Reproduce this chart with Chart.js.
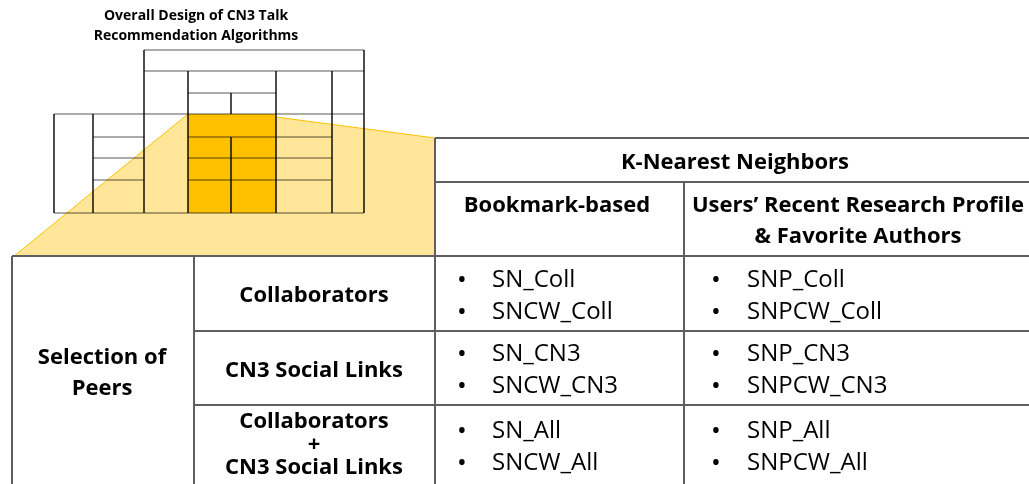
<!DOCTYPE html>
<html>
<head>
<meta charset="utf-8">
<title>Overall Design of CN3 Talk Recommendation Algorithms</title>
<script src="https://cdn.jsdelivr.net/npm/chart.js@4.4.0/dist/chart.umd.min.js"></script>
<style>
    body { margin: 0; background: #fff; }
    #wrap { position: relative; width: 1029px; height: 484px; }
</style>
</head>
<body>
<div id="wrap"><canvas id="designChart"></canvas></div>
<script>
    // ---------------- data (texts of the table) ----------------
    var titleLines = ['Overall Design of CN3 Talk', 'Recommendation Algorithms'];
    var groupHeader = ['K-Nearest Neighbors'];
    var columnHeaders = [['Bookmark-based'], ['Users\u2019 Recent Research Profile', '& Favorite Authors']];
    var sideHeader = ['Selection of', 'Peers'];
    var rowHeaders = [['Collaborators'], ['CN3 Social Links'], ['Collaborators', '+', 'CN3 Social Links']];
    var bookmarkCells = [['SN_Coll', 'SNCW_Coll'], ['SN_CN3', 'SNCW_CN3'], ['SN_All', 'SNCW_All']];
    var profileCells = [['SNP_Coll', 'SNPCW_Coll'], ['SNP_CN3', 'SNPCW_CN3'], ['SNP_All', 'SNPCW_All']];

    // ---------------- layout (px in the hidden scales) ----------------
    // main table grid
    var mainX = [12, 194, 435, 684, 1033];
    var mainY = [138, 182, 256, 331, 405, 490];
    // mini table grid (thumbnail at top-left)
    var miniX = [54, 93, 144, 188, 231, 276, 332, 364];
    var miniY = [50, 71, 93, 114, 137, 158, 180, 213];

    function seg(x1, y1, x2, y2) { return [{x: x1, y: y1}, {x: x2, y: y2}]; }

    var mainSegs = [
        seg(mainX[2], mainY[0], mainX[4], mainY[0]),
        seg(mainX[2], mainY[1], mainX[4], mainY[1]),
        seg(mainX[0], mainY[2], mainX[4], mainY[2]),
        seg(mainX[1], mainY[3], mainX[4], mainY[3]),
        seg(mainX[1], mainY[4], mainX[4], mainY[4]),
        seg(mainX[0], mainY[2], mainX[0], mainY[5]),
        seg(mainX[1], mainY[2], mainX[1], mainY[5]),
        seg(mainX[2], mainY[0], mainX[2], mainY[5]),
        seg(mainX[3], mainY[1], mainX[3], mainY[5])
    ];

    var a = miniX[0], b = miniX[1], c = miniX[2], d = miniX[3], e = miniX[4], f = miniX[5], g = miniX[6], h = miniX[7];
    var Y = miniY;
    var miniSegs = [
        seg(c, Y[0], h, Y[0]), seg(c, Y[1], h, Y[1]), seg(d, Y[2], f, Y[2]), seg(a, Y[3], h, Y[3]),
        seg(b, Y[4], c, Y[4]), seg(d, Y[4], g, Y[4]),
        seg(b, Y[5], c, Y[5]), seg(d, Y[5], g, Y[5]),
        seg(b, Y[6], c, Y[6]), seg(d, Y[6], g, Y[6]),
        seg(a, Y[7], h, Y[7]),
        seg(a, Y[3], a, Y[7]), seg(b, Y[3], b, Y[7]), seg(c, Y[0], c, Y[7]), seg(d, Y[1], d, Y[7]),
        seg(e, Y[2], e, Y[3]), seg(e, Y[4], e, Y[7]),
        seg(f, Y[1], f, Y[7]), seg(g, Y[1], g, Y[7]), seg(h, Y[0], h, Y[7])
    ];

    // zoom wedge from the highlighted block to the big table
    var wedge = [{x: 13, y: 257}, {x: d, y: Y[3]}, {x: f, y: 117}, {x: mainX[2], y: mainY[0]}, {x: mainX[2], y: 257}, {x: 13, y: 257}];
    var highlight = [{x: d, y: Y[3]}, {x: f, y: Y[3]}, {x: f, y: Y[7]}, {x: d, y: Y[7]}, {x: d, y: Y[3]}];

    var datasets = [];
    datasets.push({data: wedge, showLine: true, fill: 'shape', backgroundColor: '#FFE699', borderWidth: 0, pointRadius: 0, order: 30});
    datasets.push({data: seg(13, 257, d, Y[3]), showLine: true, borderColor: '#FFC000', borderWidth: 1, pointRadius: 0, order: 25});
    datasets.push({data: seg(f, 117, mainX[2], mainY[0]), showLine: true, borderColor: '#FFC000', borderWidth: 1, pointRadius: 0, order: 25});
    datasets.push({data: highlight, showLine: true, fill: 'shape', backgroundColor: '#FFC000', borderWidth: 0, pointRadius: 0, order: 20});
    miniSegs.forEach(function (s) {
        datasets.push({data: s, showLine: true, borderColor: 'rgba(0,0,0,0.66)', borderWidth: 1, pointRadius: 0, order: 10});
    });
    mainSegs.forEach(function (s) {
        datasets.push({data: s, showLine: true, borderColor: '#5e5e5e', borderWidth: 2, pointRadius: 0, order: 1});
    });

    var boldFont = 'bold 22px "Open Sans"';
    var plainFont = '24px "Open Sans"';
    var bulletFont = '26px "Open Sans"';

    var tablePlugin = {
        id: 'tableText',
        afterDatasetsDraw: function (chart) {
            var ctx = chart.ctx;
            var sx = chart.scales.x, sy = chart.scales.y;
            // lines, centre or left x, first baseline, line step
            function put(lines, cx, base, step, font, align) {
                ctx.save();
                ctx.font = font;
                ctx.fillStyle = '#000';
                ctx.textAlign = align || 'center';
                ctx.textBaseline = 'alphabetic';
                for (var i = 0; i < lines.length; i++) {
                    ctx.fillText(lines[i], sx.getPixelForValue(cx), sy.getPixelForValue(base + i * step));
                }
                ctx.restore();
            }
            put(titleLines, 196, 20, 20, 'bold 14px "Open Sans"');
            put(groupHeader, 735, 169, 31, boldFont);
            put(columnHeaders[0], 557, 212, 31, boldFont);
            put(columnHeaders[1], 858, 212, 31, boldFont);
            put(sideHeader, 102, 364, 31, boldFont);
            put(rowHeaders[0], 314, 302, 23, boldFont);
            put(rowHeaders[1], 314, 377, 23, boldFont);
            put(rowHeaders[2], 314, 428, 23, boldFont);

            var rowBase = [287, 361, 438];
            for (var r = 0; r < 3; r++) {
                put(['\u2022', '\u2022'], 462, rowBase[r] + 1, 31.5, bulletFont);
                put(bookmarkCells[r], 492, rowBase[r], 31.5, plainFont, 'left');
                put(['\u2022', '\u2022'], 716, rowBase[r] + 1, 31.5, bulletFont);
                put(profileCells[r], 747, rowBase[r], 31.5, plainFont, 'left');
            }
        }
    };

    var ctx = document.getElementById('designChart').getContext('2d');
    var chart = new Chart(ctx, {
        type: 'scatter',
        data: {datasets: datasets},
        options: {
            responsive: true,
            maintainAspectRatio: false,
            animation: false,
            layout: {padding: 0},
            scales: {
                x: {type: 'linear', min: 0, max: 1029, display: false},
                y: {type: 'linear', min: 0, max: 484, reverse: true, display: false}
            },
            plugins: {
                legend: {display: false},
                tooltip: {enabled: false}
            },
            events: []
        },
        plugins: [tablePlugin]
    });
</script>
</body>
</html>
